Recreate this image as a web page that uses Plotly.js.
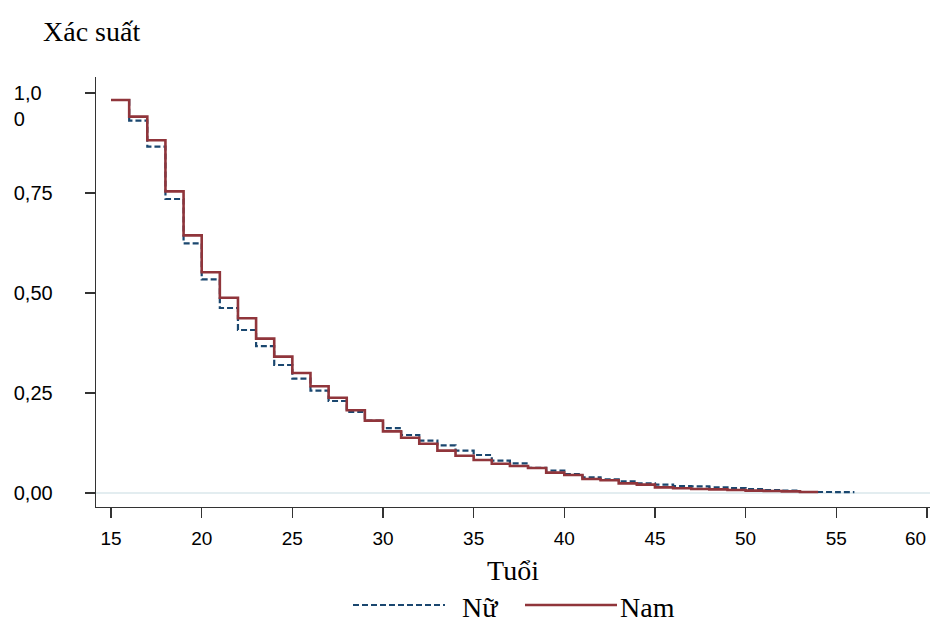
<!DOCTYPE html>
<html>
<head>
<meta charset="utf-8">
<script src="https://cdn.plot.ly/plotly-3.0.1.min.js"></script>
<style>html,body{margin:0;padding:0;background:#fff;overflow:hidden;}#chart{width:930px;height:622px;}</style>
</head>
<body>
<div id="chart"></div>
<script>
// Kaplan-Meier style step data
const agesNu = [15,16,17,18,19,20,21,22,23,24,25,26,27,28,29,30,31,32,33,34,35,36,37,38,39,40,41,42,43,44,45,46,47,48,49,50,51,52,53,54,55,56];
const survNu = [0.9825,0.931,0.866,0.735,0.624,0.534,0.4625,0.4075,0.367,0.320,0.286,0.256,0.230,0.203,0.181,0.162,0.145,0.131,0.119,0.106,0.095,0.081,0.074,0.063,0.056,0.047,0.039,0.034,0.029,0.024,0.021,0.0175,0.0165,0.014,0.0125,0.010,0.0075,0.006,0.0025,0.0025,0.002,0.002];
const agesNam = [15,16,17,18,19,20,21,22,23,24,25,26,27,28,29,30,31,32,33,34,35,36,37,38,39,40,41,42,43,44,45,46,47,48,49,50,51,52,53,54];
const survNam = [0.9825,0.941,0.882,0.754,0.644,0.552,0.488,0.437,0.386,0.341,0.300,0.267,0.238,0.207,0.181,0.154,0.138,0.123,0.106,0.093,0.0825,0.073,0.0675,0.0625,0.051,0.045,0.035,0.032,0.024,0.021,0.014,0.012,0.010,0.009,0.0075,0.006,0.005,0.004,0.0025,0.0025];
const seriesNames = ["Nữ","Nam"];
const xTickVals = [15,20,25,30,35,40,45,50,55,60];
const xTickText = ["15","20","25","30","35","40","45","50","55",""];
const lastXTickLabel = "60"; // drawn shifted left of its tick, as in the reference
const yTickVals = [0,0.25,0.5,0.75,1];
const yTickText = ["0,00","0,25","0,50","0,75","\u00a0<br>1,0\u00a0\u00a0<br>0\u00a0\u00a0\u00a0\u00a0\u00a0"];

const blue = "#1a476f", red = "#90353b";
const serif = "Liberation Serif, Times New Roman, serif";
const sans = "Liberation Sans, Arial, sans-serif";

const traces = [
  {x: agesNu, y: survNu, name: seriesNames[0], mode: "lines", line: {shape: "hv", color: blue, width: 2.2, dash: "6px,3px"}},
  {x: agesNam, y: survNam, name: seriesNames[1], mode: "lines", line: {shape: "hv", color: red, width: 2.6}}
];

// plot area: x 96..930, y 77..507
const FW = 930;
const L = 96, T = 77, W = 834, H = 430;
function px(x){return (x - L)/W;}
function py(y){return (T + H - y)/H;}

const layout = {
  width: FW, height: 622,
  margin: {l: L, r: FW - L - W, t: T, b: 622 - T - H, pad: 0},
  paper_bgcolor: "#fff", plot_bgcolor: "#fff",
  showlegend: false,
  font: {family: sans, size: 20, color: "#000"},
  title: {text: "Xác suất", font: {family: serif, size: 28, color: "#000"}, xref: "container", yref: "container", x: 43/FW, xanchor: "left", y: 1 - 31/622, yanchor: "middle"},
  xaxis: {
    range: [14.17, 60.17], tickvals: xTickVals, ticktext: xTickText,
    ticks: "outside", ticklen: 10, tickwidth: 1.3, tickcolor: "#333",
    showline: true, linecolor: "#333", linewidth: 1.3, showgrid: false, zeroline: false,
    tickfont: {family: sans, size: 19, color: "#000"}, ticklabelstandoff: 4,
    title: {text: "Tuổi", font: {family: serif, size: 28, color: "#000"}, standoff: 12}
  },
  yaxis: {
    range: [-0.035, 1.04], tickvals: yTickVals, ticktext: yTickText,
    ticks: "outside", ticklen: 10, tickwidth: 1.3, tickcolor: "#333",
    showline: true, linecolor: "#333", linewidth: 1.3, showgrid: false,
    zeroline: true, zerolinecolor: "#e3edf0", zerolinewidth: 2.5,
    tickfont: {family: sans, size: 20, color: "#000"}, ticklabelstandoff: 28
  },
  shapes: [
    {type: "line", xref: "paper", yref: "paper", x0: px(353), x1: px(445), y0: py(605), y1: py(605), line: {color: blue, width: 2.2, dash: "6px,3px"}},
    {type: "line", xref: "paper", yref: "paper", x0: px(525), x1: px(617), y0: py(605), y1: py(605), line: {color: red, width: 2.6}}
  ],
  annotations: [
    {text: lastXTickLabel, xref: "paper", yref: "paper", x: px(928), y: py(538), xanchor: "right", yanchor: "middle", showarrow: false, font: {family: sans, size: 19, color: "#000"}},
    {text: seriesNames[0], xref: "paper", yref: "paper", x: px(460), y: py(607), xanchor: "left", yanchor: "middle", showarrow: false, font: {family: serif, size: 28, color: "#000"}},
    {text: seriesNames[1], xref: "paper", yref: "paper", x: px(618), y: py(607), xanchor: "left", yanchor: "middle", showarrow: false, font: {family: serif, size: 28, color: "#000"}}
  ]
};

Plotly.newPlot("chart", traces, layout, {displayModeBar: false, staticPlot: true});
</script>
</body>
</html>
